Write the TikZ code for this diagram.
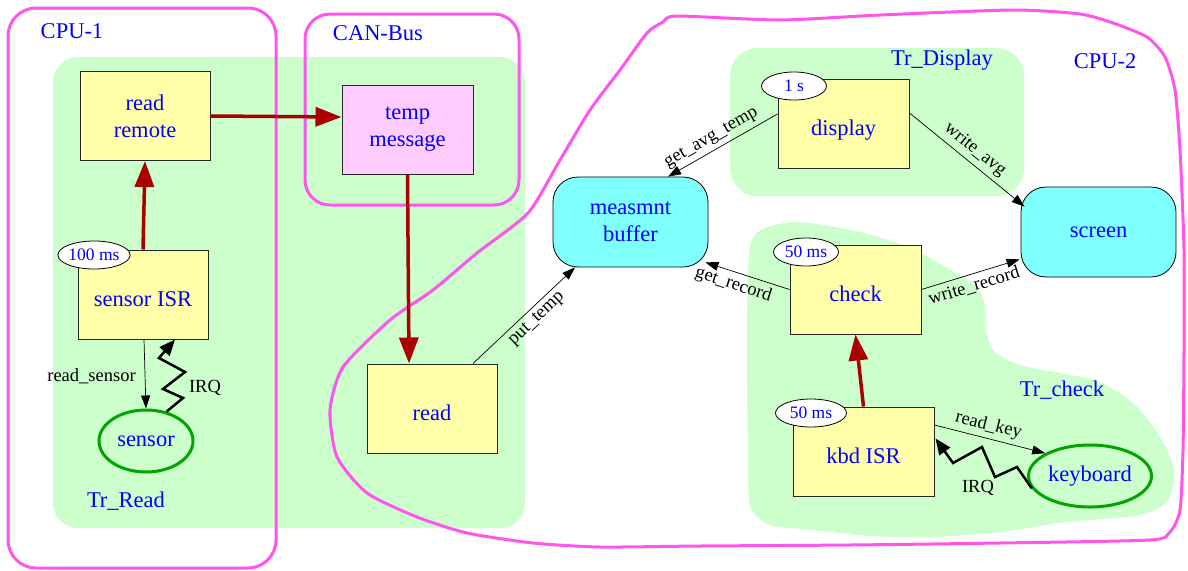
\documentclass[tikz,border=0pt]{standalone}
\usepackage{fontspec}
\setmainfont{Liberation Serif}
\usetikzlibrary{shapes.geometric,arrows.meta,calc}
\definecolor{cpupink}{RGB}{255,85,238}
\definecolor{regiongreen}{RGB}{204,255,204}
\definecolor{boxyellow}{RGB}{255,255,170}
\definecolor{boxpink}{RGB}{255,204,255}
\definecolor{boxcyan}{RGB}{128,255,255}
\definecolor{txtblue}{RGB}{0,0,255}
\definecolor{flowred}{RGB}{170,0,0}
\definecolor{devgreen}{RGB}{0,165,0}
\begin{document}
\begin{tikzpicture}[x=1pt,y=-1pt,
  bigfont/.style={font=\fontsize{22.5}{27}\selectfont},
  smallfont/.style={font=\fontsize{18.5}{21}\selectfont},
  timerfont/.style={font=\fontsize{17.5}{20}\selectfont},
  taskbox/.style={draw=black!85, line width=1pt, fill=boxyellow, text=txtblue, bigfont, align=center, inner sep=0pt, minimum width=130pt, minimum height=89pt},
  oneline/.style={text height=23pt, text depth=0pt},
  storebox/.style={draw=black, line width=0.8pt, fill=boxcyan, text=txtblue, bigfont, align=center, rounded corners=25pt, inner sep=0pt, minimum width=155pt, minimum height=90pt},
  device/.style={ellipse, draw=devgreen, line width=3pt, text=txtblue, bigfont, inner sep=0pt, minimum height=62pt},
  timer/.style={ellipse, draw=black, line width=0.8pt, fill=white, text=txtblue, timerfont, inner sep=0pt, minimum width=66pt, minimum height=28pt},
  regionlabel/.style={text=txtblue, bigfont, inner sep=0pt},
  edgelabel/.style={text=black, smallfont, inner sep=4pt},
  region/.style={fill=regiongreen, draw=none},
  cpu/.style={draw=cpupink, line width=3pt, rounded corners=28pt},
  flow/.style={draw=flowred, line width=3.5pt, -{Triangle[length=26pt,width=19pt]}},
  call/.style={draw=black, line width=0.7pt, -{Triangle[length=13pt,width=9pt]}},
  irq/.style={draw=black, line width=2.5pt, line join=miter, -{Triangle[length=16pt,width=13pt]}}
]
\useasboundingbox (0,0) rectangle (1188,570);
% green task regions
\path[region, rounded corners=25pt] (53,57) rectangle (525,528);
\path[region, rounded corners=28pt] (730,48) rectangle (1024,196);
\path[region] plot[smooth cycle, tension=0.5] coordinates {
  (765,228) (800,222) (860,232) (910,248) (947,268) (975,285) (985,305) (986,330)
  (995,352) (1020,365) (1060,373) (1100,382) (1135,405) (1160,437) (1174,470)
  (1168,500) (1140,515) (1067,522) (1000,532) (933,537) (870,536) (833,532)
  (790,528) (767,524) (750,505) (748,450) (747,350) (748,270) (752,240)};
% CPU outlines
\draw[cpu] (8,8) rectangle (276,568);
\draw[cpu, rounded corners=25pt] (305,14) rectangle (519,205);
\draw[draw=cpupink, line width=3pt] plot[smooth cycle, tension=0.4] coordinates {
  (677,16) (780,20) (880,15) (1013,10) (1080,14) (1113,23) (1147,37) (1165,57)
  (1175,90) (1180,150) (1184,250) (1184,350) (1183,450) (1180,510) (1170,532)
  (1150,540) (1000,543) (850,545) (700,546) (600,547) (533,543) (467,533)
  (417,517) (367,493) (337,457) (330,410) (343,367) (390,320) (433,290)
  (477,253) (528,213) (560,160) (590,110) (620,70) (647,33) (663,22)};
% region labels
\node[regionlabel] (lcpu1) at (72,31) {CPU-1};
\node[regionlabel] (lcan) at (378,33) {CAN-Bus};
\node[regionlabel] (lcpu2) at (1105,61) {CPU-2};
\node[regionlabel] (ltrd) at (942,60) {Tr\_Display};
\node[regionlabel] (ltrr) at (126,501) {Tr\_Read};
\node[regionlabel] (ltrc) at (1062,390) {Tr\_check};
% nodes
\node[taskbox] (rr) at (145,116) {read\\remote};
\node[taskbox, oneline] (isr) at (143,294.5) {sensor ISR};
\node[taskbox, fill=boxpink, minimum width=131pt] (temp) at (407.5,129.5) {temp\\message};
\node[taskbox, oneline] (rd) at (432,408.5) {read};
\node[storebox] (buf) at (630.5,222) {measmnt\\buffer};
\node[taskbox, oneline, minimum width=131pt] (disp) at (843.5,123.5) {display};
\node[storebox] (scr) at (1098.5,232) {screen};
\node[taskbox, oneline, minimum width=131pt] (chk) at (855.5,289.5) {check};
\node[taskbox, oneline, minimum width=141pt] (kbd) at (863.5,451.5) {kbd ISR};
\node[device, minimum width=94pt] (sens) at (146,441) {sensor};
\node[device, minimum width=123pt] (kb) at (1090,476) {keyboard};
\node[timer] (t1) at (94,255) {100 ms};
\node[timer, minimum width=65pt] (t2) at (794,86) {1 s};
\node[timer, minimum width=65pt] (t3) at (806,252) {50 ms};
\node[timer, minimum width=71pt] (t4) at (811,413) {50 ms};
% data flow (red)
\draw[flow] (isr.north) -- (rr.south);
\draw[flow] (rr.east) -- ($(temp.west)+(0,-12.5)$);
\draw[flow] (temp.south) -- ($(rd.north)+(-23,0)$);
\draw[flow] (kbd.north) -- (chk.south);
% calls
\draw[call] ($(isr.south)+(1,0)$) -- node[edgelabel, left=5pt, pos=0.53] {read\_sensor} (sens.north);
\draw[call] ($(rd.north)+(41,0)$) -- node[edgelabel, sloped, below, pos=0.55] {put\_temp} ($(buf.south)+(-55.5,0)$);
\draw[call] ($(disp.west)+(0,-9.5)$) -- node[edgelabel, sloped, above, pos=0.55] {get\_avg\_temp} ($(buf.north)+(37.5,0)$);
\draw[call] ($(disp.east)+(0,-10.5)$) -- node[edgelabel, sloped, above, pos=0.5] {write\_avg} ($(scr.north west)+(4,20)$);
\draw[call] (chk.west) -- node[edgelabel, sloped, below, pos=0.62] {get\_record} ($(buf.south east)+(-3,-5)$);
\draw[call] (chk.east) -- node[edgelabel, sloped, below, pos=0.5] {write\_record} ($(scr.south west)+(-1,-18)$);
\draw[call] ($(kbd.east)+(0,-26.5)$) -- node[edgelabel, sloped, above, pos=0.46] {read\_key} (kb.153);
% interrupts
\draw[irq] (sens.55) -- (183,398) -- (163,389) -- (185,372) -- (159,358) -- ($(isr.south)+(32,0)$)
  node[edgelabel] at (205,388) {IRQ};
\draw[irq] (kb.192) -- (1017,467) -- (995,477) -- (982,447) -- (953,463) -- ($(kbd.east)+(1,-13)$)
  node[edgelabel] at (978,488) {IRQ};
\end{tikzpicture}
\end{document}
